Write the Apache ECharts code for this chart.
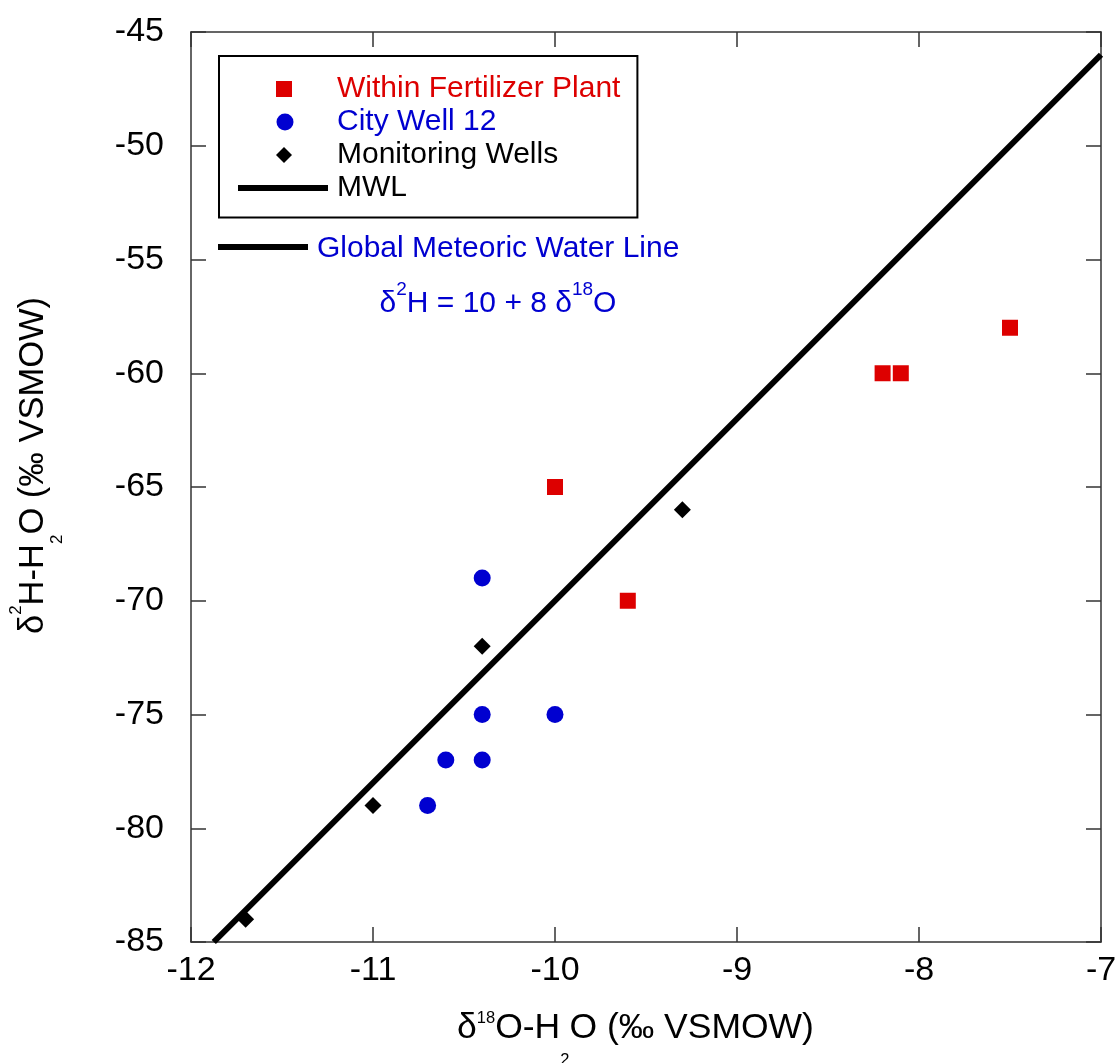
<!DOCTYPE html>
<html>
<head>
<meta charset="utf-8">
<script src="https://cdn.jsdelivr.net/npm/echarts@6/dist/echarts.min.js"></script>
<style>
  html, body { margin: 0; padding: 0; background: #fff; }
  #chart { width: 1118px; height: 1063px; }
</style>
</head>
<body>
<div id="chart"></div>
<script>
// ---- data ----
const xTicks = [-12, -11, -10, -9, -8, -7];
const yTicks = [-85, -80, -75, -70, -65, -60, -55, -50, -45];

const plantX = [-10.0, -9.6, -8.2, -8.1, -7.5];
const plantY = [-65, -70, -60, -60, -58];

const cityX = [-10.4, -10.4, -10.4, -10.6, -10.7, -10.0];
const cityY = [-69, -75, -77, -77, -79, -75];

const monX = [-11.7, -11.0, -10.4, -9.3];
const monY = [-84, -79, -72, -66];

const mwlX = [-11.875, -7];
const mwlY = [-85, -46];

const seriesNames = ['Within Fertilizer Plant', 'City Well 12', 'Monitoring Wells', 'MWL'];
const gmwlLabel = 'Global Meteoric Water Line';

// ---- styling ----
const FONT = "'Liberation Sans', Arial, Helvetica, sans-serif";
const RED = '#DD0000';
const BLUE = '#0000D0';
const AXIS = '#333333';

function pairs(xs, ys) { return xs.map((x, i) => [x, ys[i]]); }

const chart = echarts.init(document.getElementById('chart'), null, { renderer: 'canvas' });

const axisCommon = {
  type: 'value',
  axisLine: { show: true, lineStyle: { color: AXIS, width: 1.5 } },
  axisTick: { show: true, inside: true, length: 15, lineStyle: { color: AXIS, width: 1.5 } },
  splitLine: { show: false },
  nameMoveOverlap: false
};

const xMin = xTicks[0], xMax = xTicks[xTicks.length - 1], xInt = xTicks[1] - xTicks[0];
const yMin = yTicks[0], yMax = yTicks[yTicks.length - 1], yInt = yTicks[1] - yTicks[0];

const option = {
  animation: false,
  backgroundColor: '#ffffff',
  grid: { left: 191, right: 17, top: 32, bottom: 121, containLabel: false, outerBoundsMode: 'none' },
  xAxis: [
    Object.assign({}, axisCommon, {
      position: 'bottom', min: xMin, max: xMax, interval: xInt,
      axisLabel: { show: true, margin: 12, color: '#000', fontSize: 34, fontFamily: FONT },
      name: '{m|δ}{s|18}{m|O-H}{b|2}{m|O (‰ VSMOW)}',
      nameLocation: 'middle',
      nameGap: 51,
      nameTextStyle: {
        color: '#000', fontFamily: FONT, fontSize: 35.5, padding: [0, 21, 0, 0],
        rich: {
          m: { fontSize: 35.5, fontFamily: FONT, color: '#000', lineHeight: 70 },
          s: { fontSize: 16.5, fontFamily: FONT, color: '#000', lineHeight: 70, padding: [0, 0, 20, 0] },
          b: { fontSize: 16.5, fontFamily: FONT, color: '#000', lineHeight: 70, padding: [64, 0, 0, 0] }
        }
      }
    }),
    Object.assign({}, axisCommon, {
      position: 'top', min: xMin, max: xMax, interval: xInt,
      axisLabel: { show: false }
    })
  ],
  yAxis: [
    Object.assign({}, axisCommon, {
      position: 'left', min: yMin, max: yMax, interval: yInt,
      axisLabel: { show: true, margin: 27, color: '#000', fontSize: 34, fontFamily: FONT },
      name: '{m|δ}{s|2}{m|H-H}{b|2}{m|O (‰ VSMOW)}',
      nameLocation: 'middle',
      nameRotate: 90,
      nameGap: 123,
      nameTextStyle: {
        color: '#000', fontFamily: FONT, fontSize: 34.5, padding: [0, 0, 0, 43],
        rich: {
          m: { fontSize: 34.5, fontFamily: FONT, color: '#000', lineHeight: 70 },
          s: { fontSize: 17, fontFamily: FONT, color: '#000', lineHeight: 70, padding: [0, 0, 33, 0] },
          b: { fontSize: 17, fontFamily: FONT, color: '#000', lineHeight: 70, padding: [48, 0, 0, 0] }
        }
      }
    }),
    Object.assign({}, axisCommon, {
      position: 'right', min: yMin, max: yMax, interval: yInt,
      axisLabel: { show: false }
    })
  ],
  legend: {
    show: true,
    orient: 'vertical',
    left: 219,
    top: 56,
    padding: [16.5, 17, 13, 19],
    borderColor: '#000',
    borderWidth: 2,
    backgroundColor: '#fff',
    itemWidth: 94,
    itemHeight: 17,
    itemGap: 0,
    selectedMode: false,
    itemStyle: { borderWidth: 0 },
    textStyle: { fontSize: 30, fontFamily: FONT, lineHeight: 33, color: '#000' },
    data: [
      { name: seriesNames[0], icon: 'path://M0,0M94,17M38,0.5H54V16.5H38Z', textStyle: { color: RED } },
      { name: seriesNames[1], icon: 'circle', textStyle: { color: BLUE } },
      { name: seriesNames[2], icon: 'path://M0,0M94,17M46,0.5L54,8.5L46,16.5L38,8.5Z', textStyle: { color: '#000' } },
      { name: seriesNames[3], icon: 'path://M0,0M94,17M0,5.5H90V11.5H0Z', textStyle: { color: '#000' } }
    ]
  },
  graphic: [
    {
      type: 'line', z: 100,
      shape: { x1: 218, y1: 247, x2: 308, y2: 247 },
      style: { stroke: '#000', lineWidth: 6 }
    },
    {
      type: 'text', z: 100, x: 317, y: 249,
      style: {
        text: gmwlLabel, fill: BLUE, fontSize: 30, fontFamily: FONT,
        align: 'left', verticalAlign: 'middle'
      }
    },
    {
      type: 'text', z: 100, x: 498, y: 304,
      style: {
        text: '{m|δ}{s|2}{m|H = 10 + 8 δ}{s|18}{m|O}',
        fill: BLUE, fontSize: 30, fontFamily: FONT,
        align: 'center', verticalAlign: 'middle',
        rich: {
          m: { fontSize: 30, fontFamily: FONT, fill: BLUE, lineHeight: 60 },
          s: { fontSize: 19, fontFamily: FONT, fill: BLUE, lineHeight: 60, padding: [0, 0, 28, 0] }
        }
      }
    }
  ],
  series: [
    {
      name: seriesNames[3], type: 'line', xAxisIndex: 0, yAxisIndex: 0,
      data: pairs(mwlX, mwlY), symbol: 'none', color: '#000',
      lineStyle: { color: '#000', width: 6 }, itemStyle: { color: '#000' },
      z: 2, clip: true
    },
    {
      name: seriesNames[0], type: 'scatter', xAxisIndex: 0, yAxisIndex: 0,
      data: pairs(plantX, plantY), symbol: 'rect', symbolSize: 16,
      itemStyle: { color: RED, opacity: 1 }, z: 3
    },
    {
      name: seriesNames[1], type: 'scatter', xAxisIndex: 0, yAxisIndex: 0,
      data: pairs(cityX, cityY), symbol: 'circle', symbolSize: 17,
      itemStyle: { color: BLUE, opacity: 1 }, z: 3
    },
    {
      name: seriesNames[2], type: 'scatter', xAxisIndex: 0, yAxisIndex: 0,
      data: pairs(monX, monY), symbol: 'diamond', symbolSize: 17,
      itemStyle: { color: '#000', opacity: 1 }, z: 3
    }
  ]
};

chart.setOption(option);
</script>
</body>
</html>
